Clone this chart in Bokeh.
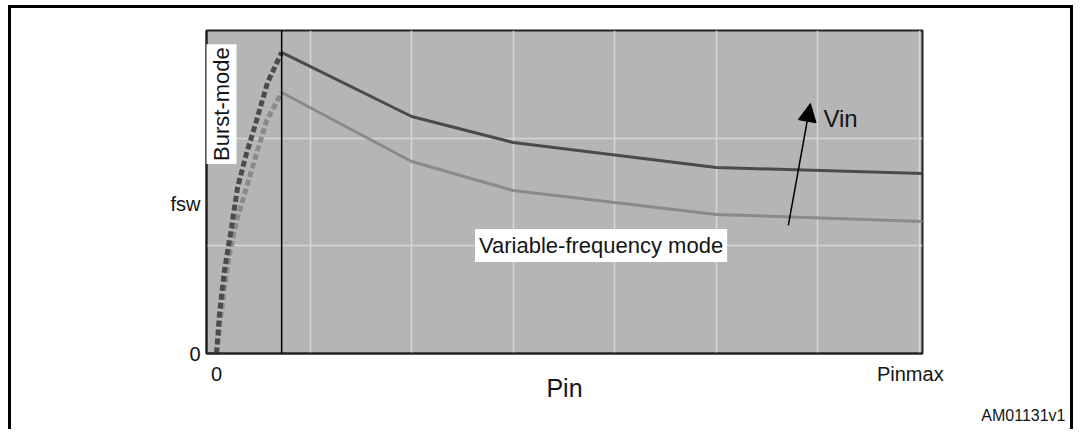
from bokeh.plotting import figure
from bokeh.models import (Range1d, FixedTicker, Label, Span, Arrow, NormalHead, Title)
from bokeh.embed import file_html
from bokeh.resources import INLINE
import math

# ---- data ----
vf_x = [0.72, 2.0, 3.0, 5.0, 7.03]
vf_high = [2.796, 2.201, 1.960, 1.727, 1.672]
vf_low = [2.424, 1.783, 1.514, 1.291, 1.226]

burst_high_x = [0.079, 0.108, 0.157, 0.226, 0.286, 0.374, 0.473, 0.581, 0.72]
burst_high = [0.0, 0.371, 0.771, 1.170, 1.542, 1.858, 2.164, 2.517, 2.796]
burst_low_x = [0.079, 0.108, 0.157, 0.207, 0.276, 0.374, 0.473, 0.572, 0.72]
burst_low = [0.0, 0.241, 0.613, 0.929, 1.235, 1.542, 1.858, 2.164, 2.424]

burst_boundary_x = 0.72
x_ticks = [0.079, 6.91]
x_tick_labels = ["0", "Pinmax"]
y_ticks = [0, 1.393]
y_tick_labels = ["0", "fsw"]
vin_arrow = (5.709, 1.189, 5.926, 2.322)

FONT = "Liberation Sans"
TXT = "#141414"

p = figure(width=1065, height=424, output_backend="svg", toolbar_location=None,
           x_range=Range1d(-0.02, 7.03), y_range=Range1d(0, 3),
           min_border_left=195, min_border_right=154,
           min_border_top=22, min_border_bottom=79)
p.styles = {"margin-left": "8px", "margin-top": "5px",
            "border-top": "3px solid black", "border-left": "3px solid black",
            "border-right": "3px solid black"}

p.background_fill_color = "#b5b5b5"
p.border_fill_color = "white"
p.outline_line_color = "#222222"
p.outline_line_width = 2

p.xgrid.ticker = FixedTicker(ticks=[1, 2, 3, 4, 5, 6, 7])
p.ygrid.ticker = FixedTicker(ticks=[1, 2])
p.grid.grid_line_color = "#d6d6d6"
p.grid.grid_line_width = 1.5

p.xaxis.ticker = FixedTicker(ticks=x_ticks)
p.xaxis.major_label_overrides = dict(zip(x_ticks, x_tick_labels))
p.yaxis.ticker = FixedTicker(ticks=y_ticks)
p.yaxis.major_label_overrides = dict(zip(y_ticks, y_tick_labels))
for ax in (p.xaxis, p.yaxis):
    ax.axis_line_color = "#222222"
    ax.axis_line_width = 2
    ax.major_tick_line_color = None
    ax.minor_tick_line_color = None
    ax.major_tick_out = 0
    ax.major_tick_in = 0
    ax.major_label_text_font = FONT
    ax.major_label_text_font_size = "20px"
    ax.major_label_text_color = TXT
    ax.major_label_text_font_style = "normal"
p.xaxis.major_label_standoff = 9
p.yaxis.major_label_standoff = 6

p.xaxis.axis_label = "Pin"
p.xaxis.axis_label_text_font = FONT
p.xaxis.axis_label_text_font_size = "25px"
p.xaxis.axis_label_text_font_style = "normal"
p.xaxis.axis_label_text_color = TXT
p.xaxis.axis_label_standoff = -14

p.add_layout(Title(text="AM01131v1", align="right", offset=-143,
                   text_font=FONT, text_font_size="16px", text_color=TXT,
                   text_font_style="normal", standoff=0), "below")

# burst-mode boundary
p.add_layout(Span(location=burst_boundary_x, dimension="height",
                  line_color="black", line_width=1.5))

# variable-frequency curves
p.line(vf_x, vf_high, line_color="#4b4b4b", line_width=3)
p.line(vf_x, vf_low, line_color="#8a8a8a", line_width=3)
# burst-mode curves (dashed)
p.line(burst_low_x, burst_low, line_color="#8a8a8a", line_width=5, line_dash="6 3")
p.line(burst_high_x, burst_high, line_color="#4b4b4b", line_width=5, line_dash="6 3")

# annotations
p.add_layout(Label(x=0.123, y=2.317, text="Burst-mode", angle=math.pi / 2,
                   text_align="center", text_baseline="middle",
                   text_font=FONT, text_font_size="22px", text_color=TXT,
                   background_fill_color="white", padding=3))
p.add_layout(Label(x=3.865, y=1.003, text="Variable-frequency mode",
                   text_align="center", text_baseline="middle",
                   text_font=FONT, text_font_size="22px", text_color=TXT,
                   background_fill_color="white", padding=4))
p.add_layout(Arrow(x_start=vin_arrow[0], y_start=vin_arrow[1],
                   x_end=vin_arrow[2], y_end=vin_arrow[3],
                   line_color="black", line_width=1.5,
                   end=NormalHead(size=18, fill_color="black", line_color="black")))
p.add_layout(Label(x=6.054, y=2.18, text="Vin", text_align="left",
                   text_baseline="middle", text_font=FONT,
                   text_font_size="24px", text_color=TXT))

open("out.html", "w").write(file_html(p, INLINE))
